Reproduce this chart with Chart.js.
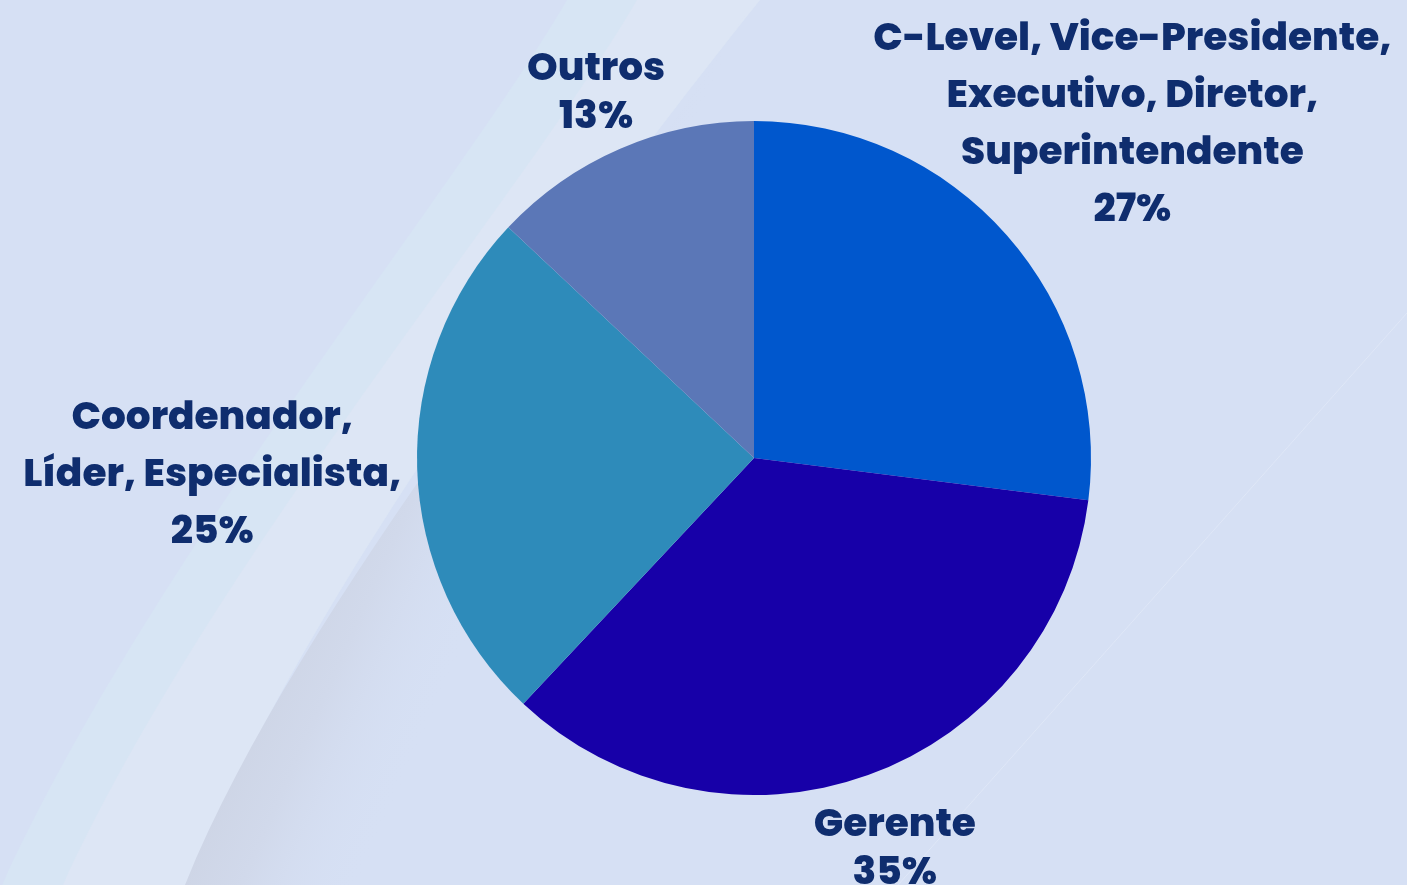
<!DOCTYPE html>
<html>
<head>
<meta charset="utf-8">
<script src="https://cdn.jsdelivr.net/npm/chart.js@4.4.0/dist/chart.umd.min.js"></script>
<style>
  html, body { margin: 0; padding: 0; background: #d6e0f4; }
  #wrap { width: 1407px; height: 885px; position: relative; }
</style>
</head>
<body>
<div id="wrap"><canvas id="cargoChart"></canvas></div>
<script>
// dados do gráfico
var categorias = [
  ['C-Level, Vice-Presidente,', 'Executivo, Diretor,', 'Superintendente'],
  ['Gerente'],
  ['Coordenador,', 'Líder, Especialista,'],
  ['Outros']
];
var percentuais = [27, 35, 25, 13];
var cores = ['#0057cd', '#1700a8', '#2e8bba', '#5b77b7'];

var fonteLabel = '800 39px Poppins, Inter, "Open Sans", sans-serif';
var corTexto = '#0f2d6e';
// distancia extra entre a borda da pizza e cada rotulo
var folgas = [14, 36, 16, 17];

// fundo com faixas diagonais
var fundoPlugin = {
  id: 'fundo',
  beforeDraw: function(chart) {
    var ctx = chart.ctx;
    var w = chart.width, h = chart.height;
    ctx.save();
    ctx.fillStyle = '#d6e0f4';
    ctx.fillRect(0, 0, w, h);

    // faixa clara
    ctx.fillStyle = '#d7e5f4';
    ctx.beginPath();
    ctx.moveTo(567, 0);
    ctx.bezierCurveTo(450, 200, 150, 560, 0, 890);
    ctx.lineTo(190, 885);
    ctx.bezierCurveTo(300, 600, 600, 200, 760, 0);
    ctx.closePath();
    ctx.fill();

    ctx.fillStyle = '#dde6f5';
    ctx.beginPath();
    ctx.moveTo(637, 0);
    ctx.bezierCurveTo(520, 200, 213, 560, 63, 885);
    ctx.lineTo(190, 885);
    ctx.bezierCurveTo(300, 600, 600, 200, 760, 0);
    ctx.closePath();
    ctx.fill();

    // faixa cinza
    var g = ctx.createLinearGradient(200, 760, 380, 840);
    g.addColorStop(0, '#ccd3e3');
    g.addColorStop(0.45, '#d1d9eb');
    g.addColorStop(1, 'rgba(214,224,244,0)');
    ctx.fillStyle = g;
    ctx.beginPath();
    ctx.moveTo(753, 0);
    ctx.bezierCurveTo(600, 250, 300, 600, 185, 885);
    ctx.lineTo(380, 885);
    ctx.bezierCurveTo(500, 600, 800, 250, 960, 0);
    ctx.closePath();
    ctx.fill();

    // linha fina à direita
    ctx.strokeStyle = 'rgba(226,234,248,0.7)';
    ctx.lineWidth = 1;
    ctx.beginPath();
    ctx.moveTo(1407, 313);
    ctx.lineTo(898, 885);
    ctx.stroke();
    ctx.restore();
  }
};

// rótulos fora das fatias
var rotulosPlugin = {
  id: 'rotulos',
  afterDatasetsDraw: function(chart) {
    var ctx = chart.ctx;
    var meta = chart.getDatasetMeta(0);
    ctx.save();
    ctx.font = fonteLabel;
    ctx.fillStyle = corTexto;
    ctx.textAlign = 'center';
    ctx.textBaseline = 'alphabetic';
    var cap = 11;
    meta.data.forEach(function(arc, i) {
      var linhas = categorias[i].concat([percentuais[i] + '%']);
      var lh = linhas.length > 2 ? 57 : 48;
      var larg = 0;
      linhas.forEach(function(t) { larg = Math.max(larg, ctx.measureText(t).width); });
      var hw = larg / 2;
      var hh = (linhas.length - 1) * lh / 2 + 16;
      var ang = (arc.startAngle + arc.endAngle) / 2;
      var c = Math.cos(ang), s = Math.sin(ang);
      var ext = Math.min(Math.abs(c) > 1e-6 ? hw / Math.abs(c) : 1e9, Math.abs(s) > 1e-6 ? hh / Math.abs(s) : 1e9);
      var d = arc.outerRadius + folgas[i] + ext;
      var cx = arc.x + c * d;
      var cy = arc.y + s * d;
      linhas.forEach(function(t, k) {
        ctx.fillText(t, cx, cy - (linhas.length - 1) * lh / 2 + k * lh + cap);
      });
    });
    ctx.restore();
  }
};

var ctx = document.getElementById('cargoChart');
var cargoChart = new Chart(ctx, {
  type: 'pie',
  data: {
    labels: categorias.map(function(l) { return l.join(' '); }),
    datasets: [{
      data: percentuais,
      backgroundColor: cores,
      borderWidth: 0
    }]
  },
  options: {
    responsive: true,
    maintainAspectRatio: false,
    animation: false,
    layout: { padding: { left: 417, right: 316, top: 121, bottom: 90 } },
    plugins: {
      legend: { display: false },
      tooltip: { enabled: false }
    }
  },
  plugins: [fundoPlugin, rotulosPlugin]
});
</script>
</body>
</html>
